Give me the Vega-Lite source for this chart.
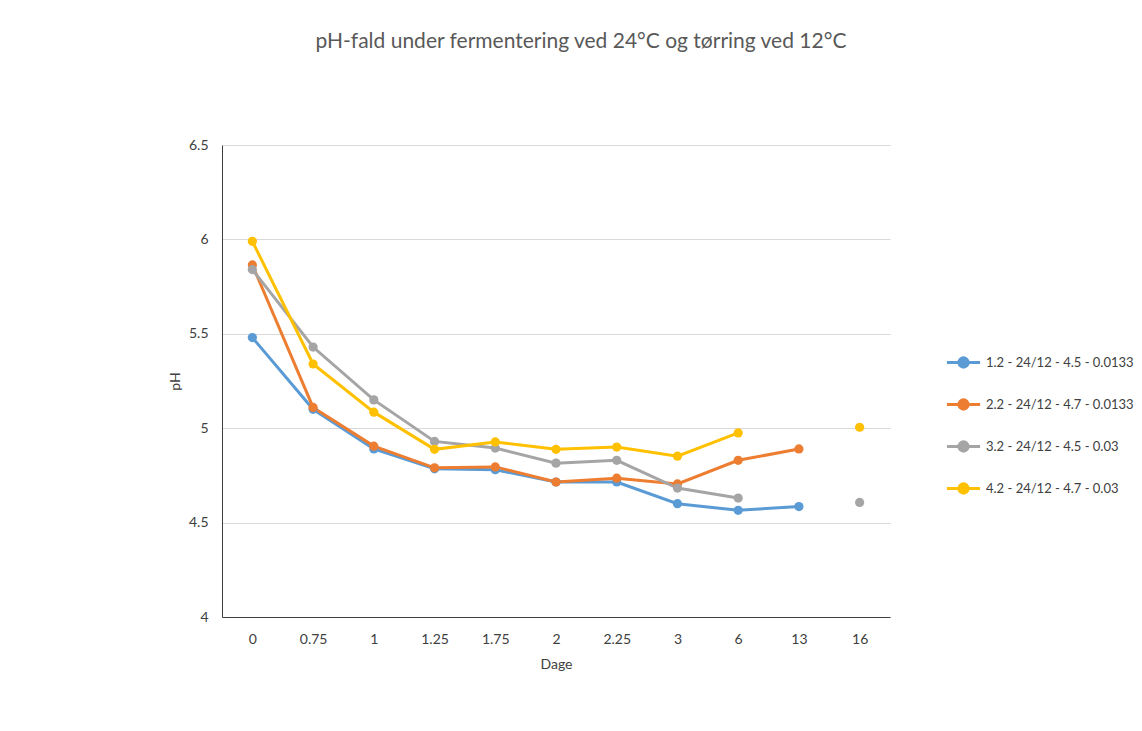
{
  "$schema": "https://vega.github.io/schema/vega-lite/v6.json",
  "width": 668,
  "height": 472,
  "autosize": {"type": "none"},
  "padding": {"left": 222, "top": 145, "right": 252, "bottom": 114},
  "background": "white",
  "config": {
    "font": "Lato",
    "view": {"stroke": null},
    "axis": {"labelFont": "Lato", "titleFont": "Lato", "labelColor": "#404040", "titleColor": "#404040", "labelFontSize": 14, "titleFontSize": 14, "titleFontWeight": "normal"}
  },
  "title": {
    "text": "pH-fald under fermentering ved 24°C og tørring ved 12°C",
    "fontSize": 21,
    "fontWeight": "normal",
    "color": "#595959",
    "font": "Lato",
    "offset": 86,
    "dx": 25
  },
  "data": {
    "values": [
      {"Dage": "0", "serie": "1.2 - 24/12 - 4.5 - 0.0133", "pH": 5.48},
      {"Dage": "0.75", "serie": "1.2 - 24/12 - 4.5 - 0.0133", "pH": 5.10},
      {"Dage": "1", "serie": "1.2 - 24/12 - 4.5 - 0.0133", "pH": 4.89},
      {"Dage": "1.25", "serie": "1.2 - 24/12 - 4.5 - 0.0133", "pH": 4.785},
      {"Dage": "1.75", "serie": "1.2 - 24/12 - 4.5 - 0.0133", "pH": 4.78},
      {"Dage": "2", "serie": "1.2 - 24/12 - 4.5 - 0.0133", "pH": 4.715},
      {"Dage": "2.25", "serie": "1.2 - 24/12 - 4.5 - 0.0133", "pH": 4.715},
      {"Dage": "3", "serie": "1.2 - 24/12 - 4.5 - 0.0133", "pH": 4.60},
      {"Dage": "6", "serie": "1.2 - 24/12 - 4.5 - 0.0133", "pH": 4.565},
      {"Dage": "13", "serie": "1.2 - 24/12 - 4.5 - 0.0133", "pH": 4.585},
      {"Dage": "16", "serie": "1.2 - 24/12 - 4.5 - 0.0133", "pH": null},
      {"Dage": "0", "serie": "2.2 - 24/12 - 4.7 - 0.0133", "pH": 5.865},
      {"Dage": "0.75", "serie": "2.2 - 24/12 - 4.7 - 0.0133", "pH": 5.11},
      {"Dage": "1", "serie": "2.2 - 24/12 - 4.7 - 0.0133", "pH": 4.905},
      {"Dage": "1.25", "serie": "2.2 - 24/12 - 4.7 - 0.0133", "pH": 4.79},
      {"Dage": "1.75", "serie": "2.2 - 24/12 - 4.7 - 0.0133", "pH": 4.795},
      {"Dage": "2", "serie": "2.2 - 24/12 - 4.7 - 0.0133", "pH": 4.715},
      {"Dage": "2.25", "serie": "2.2 - 24/12 - 4.7 - 0.0133", "pH": 4.735},
      {"Dage": "3", "serie": "2.2 - 24/12 - 4.7 - 0.0133", "pH": 4.705},
      {"Dage": "6", "serie": "2.2 - 24/12 - 4.7 - 0.0133", "pH": 4.83},
      {"Dage": "13", "serie": "2.2 - 24/12 - 4.7 - 0.0133", "pH": 4.89},
      {"Dage": "16", "serie": "2.2 - 24/12 - 4.7 - 0.0133", "pH": null},
      {"Dage": "0", "serie": "3.2 - 24/12 - 4.5 - 0.03", "pH": 5.84},
      {"Dage": "0.75", "serie": "3.2 - 24/12 - 4.5 - 0.03", "pH": 5.43},
      {"Dage": "1", "serie": "3.2 - 24/12 - 4.5 - 0.03", "pH": 5.15},
      {"Dage": "1.25", "serie": "3.2 - 24/12 - 4.5 - 0.03", "pH": 4.93},
      {"Dage": "1.75", "serie": "3.2 - 24/12 - 4.5 - 0.03", "pH": 4.895},
      {"Dage": "2", "serie": "3.2 - 24/12 - 4.5 - 0.03", "pH": 4.815},
      {"Dage": "2.25", "serie": "3.2 - 24/12 - 4.5 - 0.03", "pH": 4.83},
      {"Dage": "3", "serie": "3.2 - 24/12 - 4.5 - 0.03", "pH": 4.683},
      {"Dage": "6", "serie": "3.2 - 24/12 - 4.5 - 0.03", "pH": 4.63},
      {"Dage": "13", "serie": "3.2 - 24/12 - 4.5 - 0.03", "pH": null},
      {"Dage": "16", "serie": "3.2 - 24/12 - 4.5 - 0.03", "pH": 4.607},
      {"Dage": "0", "serie": "4.2 - 24/12 - 4.7 - 0.03", "pH": 5.99},
      {"Dage": "0.75", "serie": "4.2 - 24/12 - 4.7 - 0.03", "pH": 5.34},
      {"Dage": "1", "serie": "4.2 - 24/12 - 4.7 - 0.03", "pH": 5.085},
      {"Dage": "1.25", "serie": "4.2 - 24/12 - 4.7 - 0.03", "pH": 4.888},
      {"Dage": "1.75", "serie": "4.2 - 24/12 - 4.7 - 0.03", "pH": 4.927},
      {"Dage": "2", "serie": "4.2 - 24/12 - 4.7 - 0.03", "pH": 4.888},
      {"Dage": "2.25", "serie": "4.2 - 24/12 - 4.7 - 0.03", "pH": 4.90},
      {"Dage": "3", "serie": "4.2 - 24/12 - 4.7 - 0.03", "pH": 4.852},
      {"Dage": "6", "serie": "4.2 - 24/12 - 4.7 - 0.03", "pH": 4.975},
      {"Dage": "13", "serie": "4.2 - 24/12 - 4.7 - 0.03", "pH": null},
      {"Dage": "16", "serie": "4.2 - 24/12 - 4.7 - 0.03", "pH": 5.005}
    ]
  },
  "encoding": {
    "x": {
      "field": "Dage",
      "type": "ordinal",
      "sort": ["0", "0.75", "1", "1.25", "1.75", "2", "2.25", "3", "6", "13", "16"],
      "scale": {"type": "point", "padding": 0.5},
      "axis": {"title": "Dage", "labelAngle": 0, "ticks": false, "domainColor": "#404040", "domainWidth": 1, "labelPadding": 15, "titleY": 40, "grid": false}
    },
    "y": {
      "field": "pH",
      "type": "quantitative",
      "scale": {"domain": [4, 6.5], "nice": false, "zero": false},
      "axis": {"title": "pH", "values": [4, 4.5, 5, 5.5, 6, 6.5], "format": "~g", "ticks": false, "domainColor": "#404040", "domainWidth": 1, "labelPadding": 14, "gridColor": "#d9d9d9", "gridWidth": 1, "titleX": -40}
    },
    "color": {
      "field": "serie",
      "type": "nominal",
      "scale": {
        "domain": ["1.2 - 24/12 - 4.5 - 0.0133", "2.2 - 24/12 - 4.7 - 0.0133", "3.2 - 24/12 - 4.5 - 0.03", "4.2 - 24/12 - 4.7 - 0.03"],
        "range": ["#5b9bd5", "#ed7d31", "#a5a5a5", "#ffc000"]
      },
      "legend": {
        "title": null,
        "orient": "none",
        "legendX": 723,
        "legendY": 199,
        "symbolType": "M-1,0L1,0M0.28,0A0.28,0.28 0 1,1 -0.28,0A0.28,0.28 0 1,1 0.28,0Z",
        "symbolSize": 1100,
        "symbolStrokeWidth": 3,
        "labelFont": "Lato",
        "labelFontSize": 13,
        "labelColor": "#404040",
        "labelOffset": 4,
        "rowPadding": 12
      }
    }
  },
  "layer": [
    {"mark": {"type": "line", "strokeWidth": 3, "invalid": "break-paths-show-domains"}},
    {"mark": {"type": "circle", "size": 85, "opacity": 1, "invalid": "filter"}}
  ]
}
